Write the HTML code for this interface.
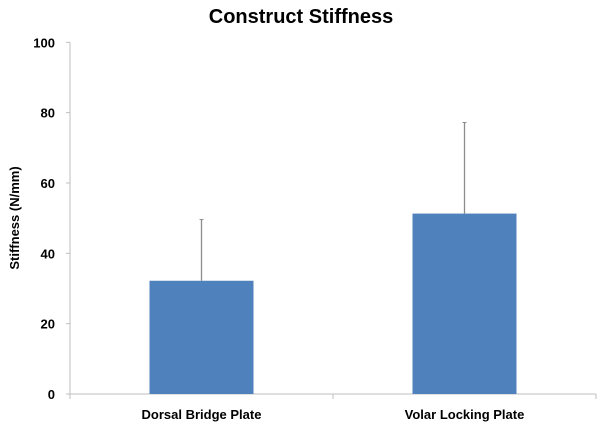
<!DOCTYPE html>
<html><head><meta charset="utf-8"><style>
body{margin:0;background:#fff;}
svg text{font-family:"Liberation Sans",sans-serif;font-weight:bold;fill:#000;}
</style></head><body>
<svg id="chart" width="602" height="430">
<text x="301" y="23" text-anchor="middle" font-size="20">Construct Stiffness</text>
<text transform="translate(19,218) rotate(-90)" text-anchor="middle" font-size="13">Stiffness (N/mm)</text>
<g id="axes"></g><g id="bars"></g>
</svg>
<script>
const categories=["Dorsal Bridge Plate","Volar Locking Plate"];
const values=[32.2,51.3];
const errors=[17.4,25.9];
const yTicks=[0,20,40,60,80,100];
const NS="http://www.w3.org/2000/svg";
const x0=70,x1=596,yBase=394,yTop=42.3;
const y=v=>yBase-(v/100)*(yBase-yTop);
const bw=(x1-x0)/categories.length;
const xc=i=>x0+bw*(i+0.5);
function mk(t,a,p){const e=document.createElementNS(NS,t);for(const k in a)e.setAttribute(k,a[k]);p.appendChild(e);return e;}
const ax=document.getElementById('axes'),bars=document.getElementById('bars');
let l=mk('line',{x1:x0,y1:yTop,x2:x0,y2:yBase,stroke:'#bfbfbf','stroke-width':1},ax);


l=mk('line',{x1:x0,y1:yBase,x2:x1,y2:yBase,stroke:'#bfbfbf','stroke-width':1},ax);


yTicks.forEach(v=>{
 const t=mk('line',{x1:x0-4,y1:y(v),x2:x0,y2:y(v),stroke:'#bfbfbf'},ax);
 
 
 const tx=mk('text',{x:x0-15,y:y(v)+5,'text-anchor':'end','font-size':13},ax);tx.textContent=v;
 
 
});
for(let i=0;i<=categories.length;i++){
 const t=mk('line',{x1:x0+bw*i,y1:yBase,x2:x0+bw*i,y2:yBase+5,stroke:'#bfbfbf'},ax);
 
 
}
const barW=104;
categories.forEach((c,i)=>{
 const e=mk('line',{x1:xc(i),y1:y(values[i]+errors[i]),x2:xc(i),y2:y(values[i]),stroke:'#8c8c8c','stroke-width':1.3},bars);
 
 
 const cap=mk('line',{x1:xc(i)-2,y1:y(values[i]+errors[i]),x2:xc(i)+2,y2:y(values[i]+errors[i]),stroke:'#8c8c8c'},bars);
 
 
 const r=mk('rect',{x:xc(i)-barW/2,y:y(values[i]),width:barW,height:yBase-y(values[i]),fill:'#4f81bd'},bars);
 
 
 const t=mk('text',{x:xc(i),y:419,'text-anchor':'middle','font-size':13},ax);t.textContent=c;
 
 
});
</script>
</body></html>
